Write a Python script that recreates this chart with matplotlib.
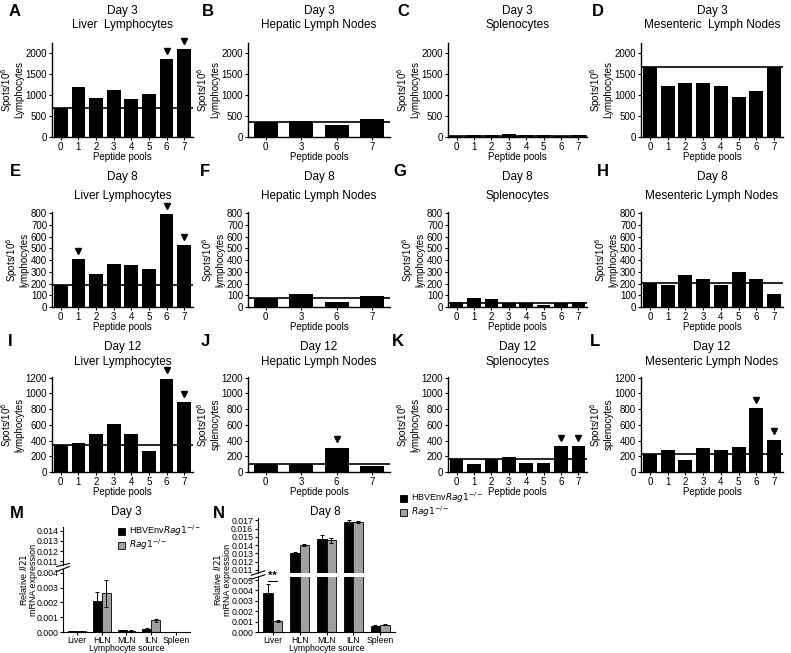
import matplotlib.pyplot as plt
import matplotlib.transforms as mtransforms
import numpy as np

plt.rcParams['font.family'] = ['Liberation Sans', 'DejaVu Sans']

# ELISpot data: spots per 10^6 cells for each peptide pool
pools_all = ['0', '1', '2', '3', '4', '5', '6', '7']
pools_hln = ['0', '3', '6', '7']

d3_liver = [680, 1180, 930, 1110, 900, 1030, 1850, 2080]
d3_hln = [350, 370, 290, 420]
d3_spleen = [30, 50, 50, 60, 40, 55, 35, 55]
d3_mln = [1650, 1210, 1270, 1290, 1220, 960, 1100, 1650]

d8_liver = [190, 410, 280, 365, 355, 325, 790, 525]
d8_hln = [75, 115, 45, 95]
d8_spleen = [40, 75, 65, 35, 30, 15, 30, 40]
d8_mln = [205, 185, 275, 235, 190, 300, 240, 110]

d12_liver = [340, 370, 490, 610, 490, 270, 1190, 890]
d12_hln = [100, 100, 310, 80]
d12_spleen = [170, 100, 170, 190, 110, 110, 330, 330]
d12_mln = [230, 285, 150, 305, 275, 320, 810, 410]

# background lines (pool 0)
base = {'A': 680, 'B': 350, 'C': 30, 'D': 1650,
        'E': 190, 'F': 80, 'G': 35, 'H': 205,
        'I': 340, 'J': 100, 'K': 170, 'L': 230}
# arrowheads mark positive pools
arrows = {'A': [6, 7], 'E': [1, 6, 7], 'I': [6, 7], 'J': [2], 'K': [6, 7], 'L': [6, 7]}

# Il21 qPCR
sources = ['Liver', 'HLN', 'MLN', 'ILN', 'Spleen']
m_tg = [0.00005, 0.0021, 0.00012, 0.0002, 0.00002]
m_tg_err = [0.00002, 0.0006, 0.00004, 0.00006, 0.00001]
m_rag = [0.00004, 0.0026, 0.0001, 0.0008, 0.00002]
m_rag_err = [0.00002, 0.0009, 0.00003, 0.0001, 0.00001]
n_tg = [0.0038, 0.0130, 0.0148, 0.0168, 0.0006]
n_tg_err = [0.0008, 0.0002, 0.0004, 0.0002, 0.00005]
n_rag = [0.0011, 0.0140, 0.0146, 0.0168, 0.0007]
n_rag_err = [0.0001, 0.0001, 0.0003, 0.0001, 0.00005]

W, H = 791, 653
fig = plt.figure(figsize=(W / 100, H / 100), dpi=100)


def px_axes(l, t, r, b):
    return fig.add_axes([l / W, 1 - b / H, (r - l) / W, (b - t) / H])


def ftext(x, y, s, **kw):
    return fig.text(x / W, 1 - y / H, s, **kw)


def elispot(letter, box, vals, labels, ymax, ystep, ytop, ylab):
    ax = px_axes(*box)
    x = np.arange(len(vals))
    width = 0.78 if len(vals) == 8 else 0.68
    ax.bar(x, vals, width=width, color='black', zorder=2)
    ax.axhline(base[letter], color='black', lw=1.2, zorder=3)
    ax.set_xlim(-0.5, len(vals) - 0.5)
    ax.set_ylim(0, ytop)
    ax.set_yticks(np.arange(0, ymax + 1, ystep))
    ax.set_xticks(x)
    ax.set_xticklabels(labels)
    ax.tick_params(labelsize=7, length=2.5, width=0.8, pad=1)
    for s in ['top', 'right']:
        ax.spines[s].set_visible(False)
    for s in ['left', 'bottom']:
        ax.spines[s].set_linewidth(1.0)
    ax.set_ylabel('Spots/10$^6$\n' + ylab, fontsize=7, labelpad=1, linespacing=0.9)
    ax.set_xlabel('Peptide pools', fontsize=7, labelpad=0)
    tr = mtransforms.offset_copy(ax.transData, fig=fig, x=0, y=6, units='points')
    for i in arrows.get(letter, []):
        ax.plot(i, vals[i], marker='v', color='black', ms=4.5, transform=tr, clip_on=False)
    return ax


lefts = [(52, 193), (248, 390), (448, 587), (641, 783)]
rows = [(43, 137), (212, 307), (377, 472)]
letters = 'ABCDEFGHIJKL'
tissues = ['Liver  Lymphocytes', 'Hepatic Lymph Nodes', 'Splenocytes', 'Mesenteric  Lymph Nodes']
tissues2 = ['Liver Lymphocytes', 'Hepatic Lymph Nodes', 'Splenocytes', 'Mesenteric Lymph Nodes']
data = [[d3_liver, d3_hln, d3_spleen, d3_mln],
        [d8_liver, d8_hln, d8_spleen, d8_mln],
        [d12_liver, d12_hln, d12_spleen, d12_mln]]
ylims = [(2000, 500, 2230), (800, 100, 810), (1200, 200, 1210)]
days = ['Day 3', 'Day 8', 'Day 12']
ylabs = [['Lymphocytes'] * 4,
         ['lymphocytes'] * 4,
         ['lymphocytes', 'splenocytes', 'lymphocytes', 'splenocytes']]
title_y = [(11, 25), (177, 196), (347, 362)]
letter_x = [[15, 208, 403, 598], [15, 205, 400, 603], [10, 205, 398, 595]]
letter_y = [11, 172, 342]

for r in range(3):
    for c in range(4):
        k = r * 4 + c
        letter = letters[k]
        box = (lefts[c][0], rows[r][0], lefts[c][1], rows[r][1])
        labels = pools_hln if c == 1 else pools_all
        ymax, ystep, ytop = ylims[r]
        tis = tissues[c] if r == 0 else tissues2[c]
        elispot(letter, box, data[r][c], labels, ymax, ystep, ytop, ylabs[r][c])
        cx = (lefts[c][0] + lefts[c][1]) / 2
        ftext(cx, title_y[r][0], days[r], fontsize=8.5, ha='center', va='center')
        ftext(cx, title_y[r][1], tis, fontsize=8.5, ha='center', va='center')
        ftext(letter_x[r][c], letter_y[r], letter,
              fontsize=12, fontweight='bold', va='center', ha='center')


def broken(l, r, up_box, lo_box, up_lim, up_ticks, lo_lim, lo_ticks, tg, tge, rag, rage):
    ax_u = px_axes(l, up_box[0], r, up_box[1])
    ax_l = px_axes(l, lo_box[0], r, lo_box[1])
    x = np.arange(len(sources))
    w = 0.36
    for ax in (ax_u, ax_l):
        ax.bar(x - w / 2, tg, w, color='black', edgecolor='black', lw=0.6,
               yerr=tge, capsize=1.5, error_kw=dict(lw=0.7, capthick=0.7))
        ax.bar(x + w / 2, rag, w, color='#a0a0a0', edgecolor='black', lw=0.6,
               yerr=rage, capsize=1.5, error_kw=dict(lw=0.7, capthick=0.7))
        ax.set_xlim(-0.55, 4.55)
        for s in ['top', 'right']:
            ax.spines[s].set_visible(False)
        ax.tick_params(labelsize=6.3, length=2.5, width=0.8, pad=1)
    ax_u.set_ylim(*up_lim)
    ax_u.set_yticks(up_ticks)
    ax_u.set_yticklabels(['%.3f' % t for t in up_ticks])
    ax_u.spines['bottom'].set_visible(False)
    ax_u.set_xticks([])
    ax_l.set_ylim(*lo_lim)
    ax_l.set_yticks(lo_ticks)
    ax_l.set_yticklabels(['%.3f' % t for t in lo_ticks])
    ax_l.set_xticks(x)
    ax_l.set_xticklabels(sources)
    ax_l.tick_params(axis='x', pad=0.5, labelsize=6.3)
    ax_l.set_xlabel('Lymphocyte source', fontsize=6.3, labelpad=-0.5)
    # break marks on y axis
    for ax, yy in ((ax_u, 0.0), (ax_l, 1.0)):
        ax.plot([-0.05, 0.05], [yy - 0.04, yy + 0.04], transform=ax.transAxes,
                color='black', lw=0.8, clip_on=False)
    return ax_u, ax_l


# M
mu, ml = broken(63, 190, (527, 565), (569, 632),
                (0.01065, 0.01435), [0.011, 0.012, 0.013, 0.014],
                (0, 0.00425), [0.000, 0.001, 0.002, 0.003, 0.004],
                m_tg, m_tg_err, m_rag, m_rag_err)
ftext(126, 512, 'Day 3', fontsize=8.5, ha='center', va='center')
ftext(28, 580, 'Relative $\\it{Il21}$\nmRNA expression', fontsize=6.5,
      rotation=90, ha='center', va='center', linespacing=0.95)
ftext(17, 513, 'M', fontsize=12, fontweight='bold', va='center', ha='center')

# N
nu, nl = broken(258, 395, (518, 573), (577, 632),
                (0.0106, 0.0173), [0.011, 0.012, 0.013, 0.014, 0.015, 0.016, 0.017],
                (0, 0.0053), [0.000, 0.001, 0.002, 0.003, 0.004, 0.005],
                n_tg, n_tg_err, n_rag, n_rag_err)
ftext(325, 512, 'Day 8', fontsize=8.5, ha='center', va='center')
ftext(222, 580, 'Relative $\\it{Il21}$\nmRNA expression', fontsize=6.5,
      rotation=90, ha='center', va='center', linespacing=0.95)
ftext(219, 513, 'N', fontsize=12, fontweight='bold', va='center', ha='center')
nl.plot([-0.17, 0.17], [0.0049, 0.0049], color='black', lw=0.8)
nl.text(0, 0.0049, '**', ha='center', va='bottom', fontsize=8, fontweight='bold')

# legends
for (lx, ly) in ((118, 531), (400, 498)):
    fig.patches.append(plt.Rectangle((lx / W, 1 - (ly + 3.5) / H), 7 / W, 7 / H,
                                     transform=fig.transFigure, facecolor='black',
                                     edgecolor='black', lw=0.6))
    fig.patches.append(plt.Rectangle((lx / W, 1 - (ly + 17.5) / H), 7 / W, 7 / H,
                                     transform=fig.transFigure, facecolor='#a0a0a0',
                                     edgecolor='black', lw=0.6))
    ftext(lx + 11, ly, 'HBVEnv$\\it{Rag1}^{-/-}$', fontsize=6.5, va='center')
    ftext(lx + 11, ly + 14, '$\\it{Rag1}^{-/-}$', fontsize=6.5, va='center')

fig.savefig('out.png', dpi=100)
